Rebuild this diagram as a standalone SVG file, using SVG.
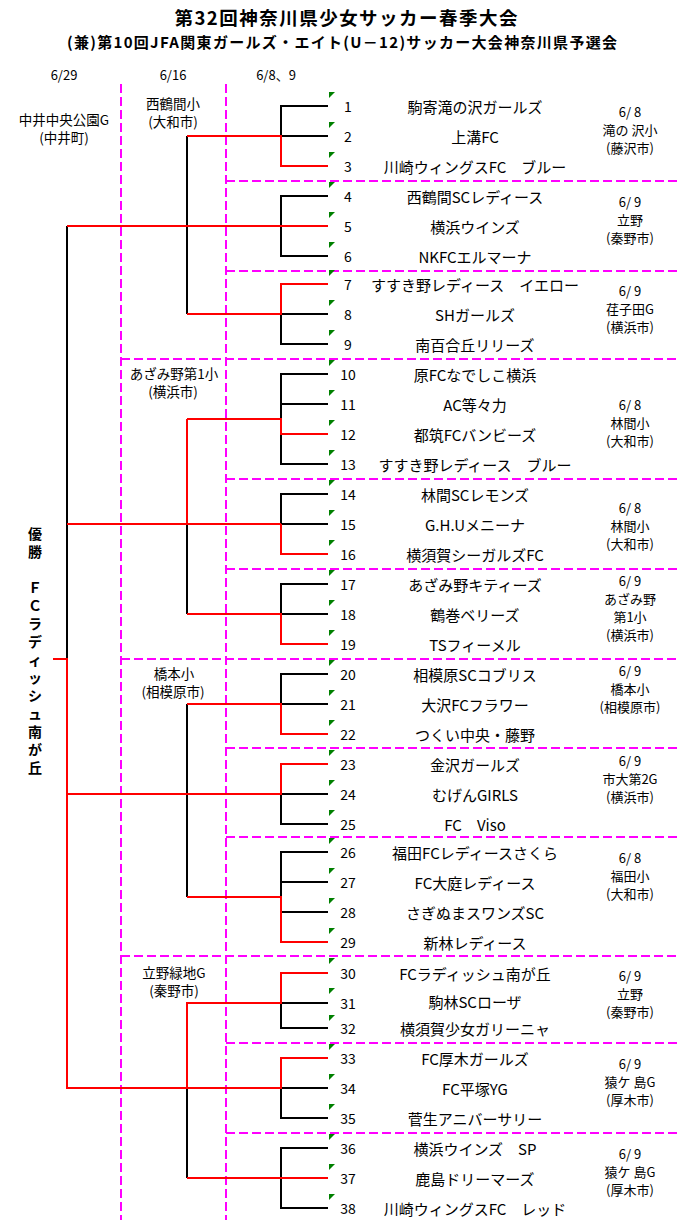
<svg xmlns="http://www.w3.org/2000/svg" width="686" height="1230" viewBox="0 0 686 1230">
<style>
text{font-family:"Noto Sans CJK JP","Noto Sans",sans-serif;fill:#000;dominant-baseline:central;text-anchor:middle}
.t1{font-size:18.5px;font-weight:bold}
.t2{font-size:15px;font-weight:bold}
.hd{font-size:13px}
.lb{font-size:13.5px}
.vn{font-size:13px}
.num{font-size:14px}
.nm{font-size:15px}
.win{font-size:14px;font-weight:bold}
.blk{stroke:#000;stroke-width:2;fill:none}
.red{stroke:#f00;stroke-width:2;fill:none}
.dash{stroke:#f0f;stroke-width:2;fill:none;stroke-dasharray:9 4}
.tri{fill:#008000}
</style>
<rect width="686" height="1230" fill="#fff"/>
<g id="title">
<text class="t1" x="346" y="16.5" textLength="343">第32回神奈川県少女サッカー春季大会</text>
<text class="t2" x="342" y="41" textLength="550">(兼)第10回JFA関東ガールズ・エイト(U－12)サッカー大会神奈川県予選会</text>
</g>
<g id="round-headers">
<text class="hd" x="64" y="74">6/29</text>
<text class="hd" x="173" y="74">6/16</text>
<text class="hd" x="276" y="74">6/8、9</text>
</g>
<g id="grid">
<path class="dash" d="M121,84V1220M226,84V1220"/>
<path class="dash" d="M226,181H680M226,271H680M121,359H680M226,479H680M226,569H680M121,659H680M226,748H680M226,837H680M121,956H680M226,1043H680M226,1133H680"/>
</g>
<g id="connectors">
<path class="blk" d="M328,106H281V136H328M187,136V314M328,196H281V256H328M281,314H328M281,314V344H328"/>
<path class="blk" d="M328,374H281V419M281,404H328M281,434V464H328M187,524V614M328,494H281V524H328M328,584H281V614H328M67,226V659"/>
<path class="blk" d="M187,704V897M328,674H281V704H328M281,794H328M281,794V824H328M328,852H281V897M281,882H328M281,912H328"/>
<path class="blk" d="M281,1003H328M281,1003V1028H328M187,1088V1178M281,1088H328M281,1088V1118H328M328,1148H281V1208H328"/>
<path class="red" d="M187,136H281V166H328M67,226H328M328,284H281V314H187"/>
<path class="red" d="M187,419H281V434H328M187,419V524M67,524H281M281,524V554H328M187,614H281V644H328"/>
<path class="red" d="M187,704H281V734H328M67,794H281V764H328M187,897H281V942H328"/>
<path class="red" d="M328,973H281V1003H187V1088M53,659H67V1088H281V1058H328M187,1178H328"/>
</g>
<g id="final">
<text class="lb" x="64" y="119">中井中央公園G</text>
<text class="lb" x="64" y="137">(中井町)</text>
</g>
<g id="winner">
<text class="win" x="35" y="533">優</text>
<text class="win" x="35" y="551">勝</text>
<text class="win" x="35" y="587">Ｆ</text>
<text class="win" x="35" y="605">Ｃ</text>
<text class="win" x="35" y="623">ラ</text>
<text class="win" x="35" y="641">デ</text>
<text class="win" x="35" y="659">ィ</text>
<text class="win" x="35" y="677">ッ</text>
<text class="win" x="35" y="695">シ</text>
<text class="win" x="35" y="713">ュ</text>
<text class="win" x="35" y="731">南</text>
<text class="win" x="35" y="749">が</text>
<text class="win" x="35" y="767">丘</text>
</g>
<g id="semi-1"><text class="lb" x="173" y="103">西鶴間小</text><text class="lb" x="173" y="121">(大和市)</text></g>
<g id="semi-2"><text class="lb" x="174" y="373">あざみ野第1小</text><text class="lb" x="173" y="391">(横浜市)</text></g>
<g id="semi-3"><text class="lb" x="174" y="673">橋本小</text><text class="lb" x="173" y="691">(相模原市)</text></g>
<g id="semi-4"><text class="lb" x="174" y="972">立野緑地G</text><text class="lb" x="174" y="990">(秦野市)</text></g>
<g id="venue-1"><text class="vn" x="630" y="111">6/ 8</text><text class="vn" x="630" y="129">滝の 沢小</text><text class="vn" x="630" y="147">(藤沢市)</text></g>
<g id="venue-2"><text class="vn" x="630" y="201">6/ 9</text><text class="vn" x="630" y="219">立野</text><text class="vn" x="630" y="237">(秦野市)</text></g>
<g id="venue-3"><text class="vn" x="630" y="290">6/ 9</text><text class="vn" x="630" y="308">荏子田G</text><text class="vn" x="630" y="326">(横浜市)</text></g>
<g id="venue-4"><text class="vn" x="630" y="404">6/ 8</text><text class="vn" x="630" y="422">林間小</text><text class="vn" x="630" y="440">(大和市)</text></g>
<g id="venue-5"><text class="vn" x="630" y="507">6/ 8</text><text class="vn" x="630" y="525">林間小</text><text class="vn" x="630" y="543">(大和市)</text></g>
<g id="venue-6"><text class="vn" x="630" y="580">6/ 9</text><text class="vn" x="630" y="598">あざみ野</text><text class="vn" x="630" y="616">第1小</text><text class="vn" x="630" y="634">(横浜市)</text></g>
<g id="venue-7"><text class="vn" x="630" y="670">6/ 9</text><text class="vn" x="630" y="688">橋本小</text><text class="vn" x="630" y="706">(相模原市)</text></g>
<g id="venue-8"><text class="vn" x="630" y="760">6/ 9</text><text class="vn" x="630" y="778">市大第2G</text><text class="vn" x="630" y="796">(横浜市)</text></g>
<g id="venue-9"><text class="vn" x="630" y="857">6/ 8</text><text class="vn" x="630" y="875">福田小</text><text class="vn" x="630" y="893">(大和市)</text></g>
<g id="venue-10"><text class="vn" x="630" y="975">6/ 9</text><text class="vn" x="630" y="993">立野</text><text class="vn" x="630" y="1011">(秦野市)</text></g>
<g id="venue-11"><text class="vn" x="630" y="1063">6/ 9</text><text class="vn" x="630" y="1081">猿ケ 島G</text><text class="vn" x="630" y="1099">(厚木市)</text></g>
<g id="venue-12"><text class="vn" x="630" y="1153">6/ 9</text><text class="vn" x="630" y="1171">猿ケ 島G</text><text class="vn" x="630" y="1189">(厚木市)</text></g>
<g id="team-1"><path class="tri" d="M329,92h6l-6,6z"/><text class="num" x="348" y="106">1</text><text class="nm" x="475" y="106">駒寄滝の沢ガールズ</text></g>
<g id="team-2"><path class="tri" d="M329,122h6l-6,6z"/><text class="num" x="348" y="136">2</text><text class="nm" x="475" y="136">上溝FC</text></g>
<g id="team-3"><path class="tri" d="M329,152h6l-6,6z"/><text class="num" x="348" y="166">3</text><text class="nm" x="475" y="166">川崎ウィングスFC　ブルー</text></g>
<g id="team-4"><path class="tri" d="M329,182h6l-6,6z"/><text class="num" x="348" y="196">4</text><text class="nm" x="475" y="196">西鶴間SCレディース</text></g>
<g id="team-5"><path class="tri" d="M329,212h6l-6,6z"/><text class="num" x="348" y="226">5</text><text class="nm" x="475" y="226">横浜ウインズ</text></g>
<g id="team-6"><path class="tri" d="M329,242h6l-6,6z"/><text class="num" x="348" y="256">6</text><text class="nm" x="475" y="256">NKFCエルマーナ</text></g>
<g id="team-7"><path class="tri" d="M329,270h6l-6,6z"/><text class="num" x="348" y="284">7</text><text class="nm" x="475" y="284">すすき野レディース　イエロー</text></g>
<g id="team-8"><path class="tri" d="M329,300h6l-6,6z"/><text class="num" x="348" y="314">8</text><text class="nm" x="475" y="314">SHガールズ</text></g>
<g id="team-9"><path class="tri" d="M329,330h6l-6,6z"/><text class="num" x="348" y="344">9</text><text class="nm" x="475" y="344">南百合丘リリーズ</text></g>
<g id="team-10"><path class="tri" d="M329,360h6l-6,6z"/><text class="num" x="348" y="374">10</text><text class="nm" x="475" y="374">原FCなでしこ横浜</text></g>
<g id="team-11"><path class="tri" d="M329,390h6l-6,6z"/><text class="num" x="348" y="404">11</text><text class="nm" x="475" y="404">AC等々力</text></g>
<g id="team-12"><path class="tri" d="M329,420h6l-6,6z"/><text class="num" x="348" y="434">12</text><text class="nm" x="475" y="434">都筑FCバンビーズ</text></g>
<g id="team-13"><path class="tri" d="M329,450h6l-6,6z"/><text class="num" x="348" y="464">13</text><text class="nm" x="475" y="464">すすき野レディース　ブルー</text></g>
<g id="team-14"><path class="tri" d="M329,480h6l-6,6z"/><text class="num" x="348" y="494">14</text><text class="nm" x="475" y="494">林間SCレモンズ</text></g>
<g id="team-15"><path class="tri" d="M329,510h6l-6,6z"/><text class="num" x="348" y="524">15</text><text class="nm" x="475" y="524">G.H.Uメニーナ</text></g>
<g id="team-16"><path class="tri" d="M329,540h6l-6,6z"/><text class="num" x="348" y="554">16</text><text class="nm" x="475" y="554">横須賀シーガルズFC</text></g>
<g id="team-17"><path class="tri" d="M329,570h6l-6,6z"/><text class="num" x="348" y="584">17</text><text class="nm" x="475" y="584">あざみ野キティーズ</text></g>
<g id="team-18"><path class="tri" d="M329,600h6l-6,6z"/><text class="num" x="348" y="614">18</text><text class="nm" x="475" y="614">鶴巻ベリーズ</text></g>
<g id="team-19"><path class="tri" d="M329,630h6l-6,6z"/><text class="num" x="348" y="644">19</text><text class="nm" x="475" y="644">TSフィーメル</text></g>
<g id="team-20"><path class="tri" d="M329,660h6l-6,6z"/><text class="num" x="348" y="674">20</text><text class="nm" x="475" y="674">相模原SCコブリス</text></g>
<g id="team-21"><path class="tri" d="M329,690h6l-6,6z"/><text class="num" x="348" y="704">21</text><text class="nm" x="475" y="704">大沢FCフラワー</text></g>
<g id="team-22"><path class="tri" d="M329,720h6l-6,6z"/><text class="num" x="348" y="734">22</text><text class="nm" x="475" y="734">つくい中央・藤野</text></g>
<g id="team-23"><path class="tri" d="M329,750h6l-6,6z"/><text class="num" x="348" y="764">23</text><text class="nm" x="475" y="764">金沢ガールズ</text></g>
<g id="team-24"><path class="tri" d="M329,780h6l-6,6z"/><text class="num" x="348" y="794">24</text><text class="nm" x="475" y="794">むげんGIRLS</text></g>
<g id="team-25"><path class="tri" d="M329,810h6l-6,6z"/><text class="num" x="348" y="824">25</text><text class="nm" x="475" y="824">FC　Viso</text></g>
<g id="team-26"><path class="tri" d="M329,838h6l-6,6z"/><text class="num" x="348" y="852">26</text><text class="nm" x="475" y="852">福田FCレディースさくら</text></g>
<g id="team-27"><path class="tri" d="M329,868h6l-6,6z"/><text class="num" x="348" y="882">27</text><text class="nm" x="475" y="882">FC大庭レディース</text></g>
<g id="team-28"><path class="tri" d="M329,898h6l-6,6z"/><text class="num" x="348" y="912">28</text><text class="nm" x="475" y="912">さぎぬまスワンズSC</text></g>
<g id="team-29"><path class="tri" d="M329,928h6l-6,6z"/><text class="num" x="348" y="942">29</text><text class="nm" x="475" y="942">新林レディース</text></g>
<g id="team-30"><path class="tri" d="M329,958h6l-6,6z"/><text class="num" x="348" y="973">30</text><text class="nm" x="475" y="973">FCラディッシュ南が丘</text></g>
<g id="team-31"><path class="tri" d="M329,988h6l-6,6z"/><text class="num" x="348" y="1003">31</text><text class="nm" x="475" y="1001">駒林SCローザ</text></g>
<g id="team-32"><path class="tri" d="M329,1015h6l-6,6z"/><text class="num" x="348" y="1028">32</text><text class="nm" x="475" y="1028">横須賀少女ガリーニャ</text></g>
<g id="team-33"><path class="tri" d="M329,1044h6l-6,6z"/><text class="num" x="348" y="1058">33</text><text class="nm" x="475" y="1058">FC厚木ガールズ</text></g>
<g id="team-34"><path class="tri" d="M329,1074h6l-6,6z"/><text class="num" x="348" y="1088">34</text><text class="nm" x="475" y="1088">FC平塚YG</text></g>
<g id="team-35"><path class="tri" d="M329,1104h6l-6,6z"/><text class="num" x="348" y="1118">35</text><text class="nm" x="475" y="1118">菅生アニバーサリー</text></g>
<g id="team-36"><path class="tri" d="M329,1134h6l-6,6z"/><text class="num" x="348" y="1148">36</text><text class="nm" x="475" y="1148">横浜ウインズ　SP</text></g>
<g id="team-37"><path class="tri" d="M329,1164h6l-6,6z"/><text class="num" x="348" y="1178">37</text><text class="nm" x="475" y="1178">鹿島ドリーマーズ</text></g>
<g id="team-38"><path class="tri" d="M329,1194h6l-6,6z"/><text class="num" x="348" y="1208">38</text><text class="nm" x="475" y="1208">川崎ウィングスFC　レッド</text></g>
</svg>
